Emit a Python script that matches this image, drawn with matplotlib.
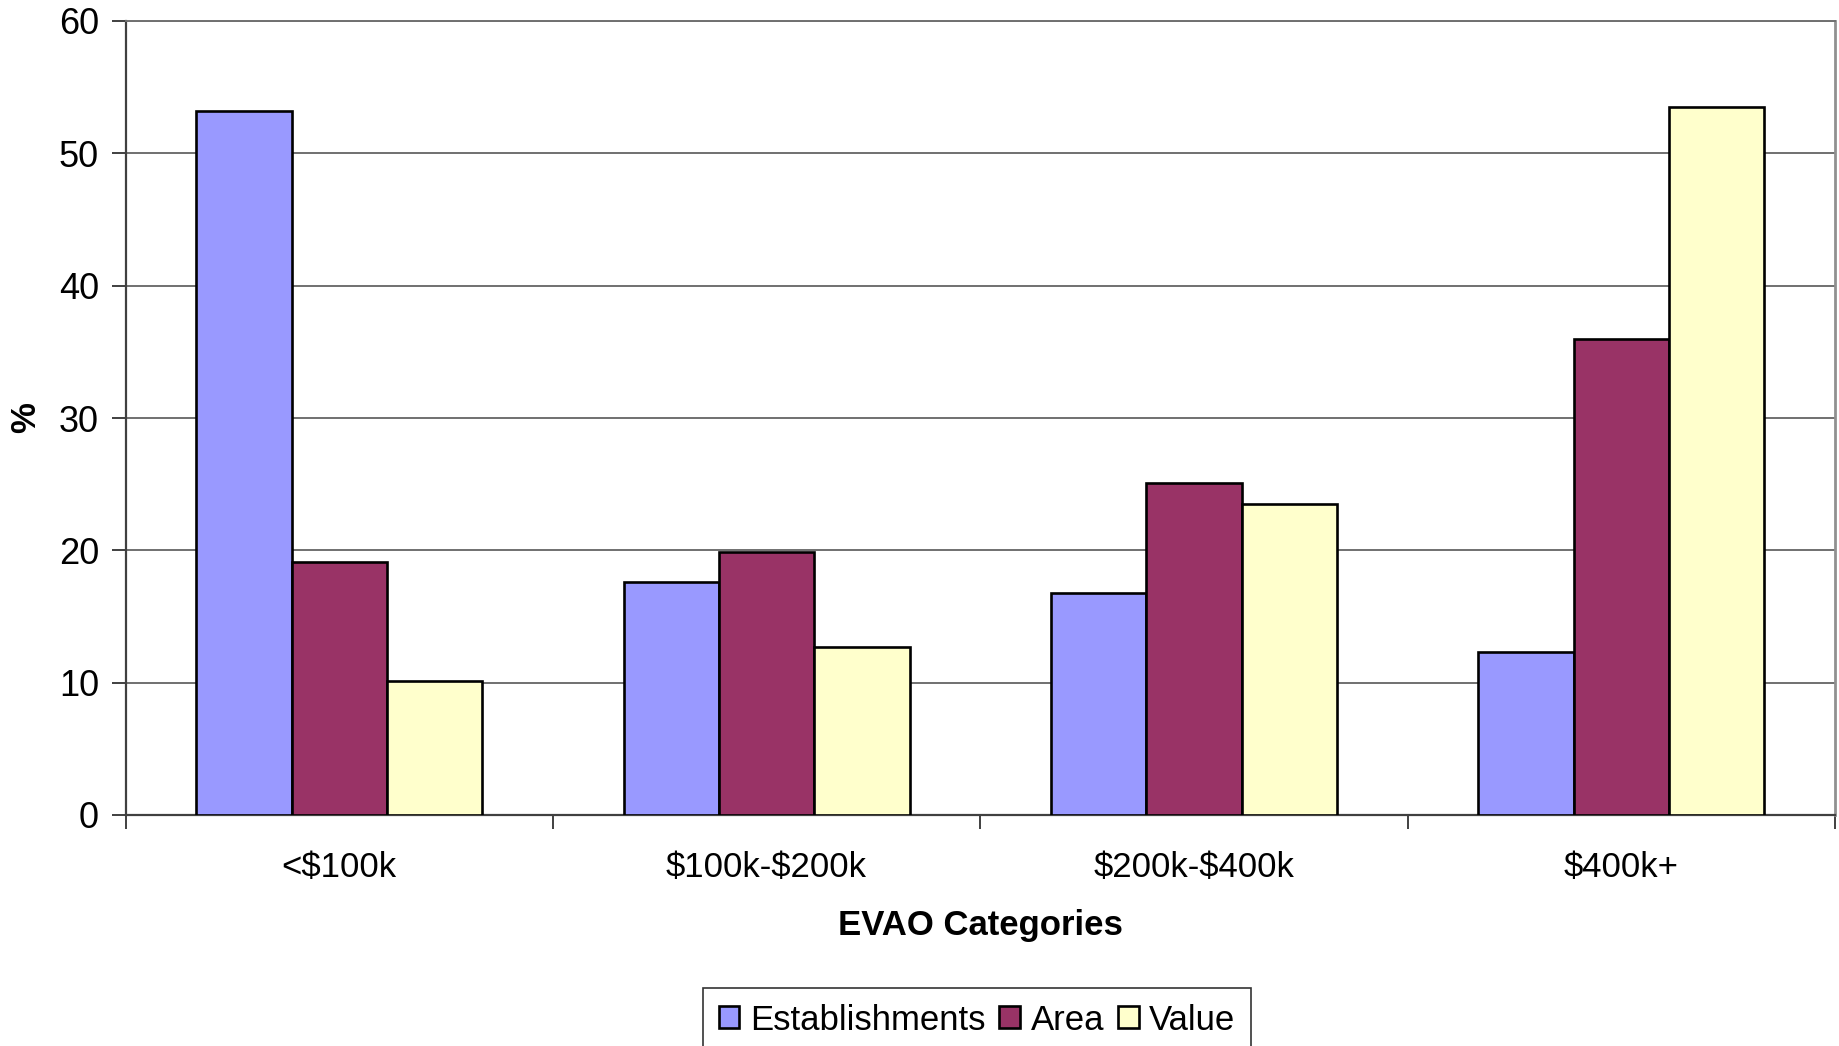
import matplotlib
matplotlib.use("Agg")
import matplotlib.pyplot as plt
import numpy as np

categories = [r"<\$100k", r"\$100k-\$200k", r"\$200k-\$400k", r"\$400k+"]
series_names = ["Establishments", "Area", "Value"]
establishments = [53.2, 17.6, 16.8, 12.3]
area = [19.1, 19.9, 25.1, 36.0]
value = [10.1, 12.7, 23.5, 53.5]
y_ticks = [0, 10, 20, 30, 40, 50, 60]

colors = ["#9999FF", "#993366", "#FFFFCC"]

plt.rcParams['font.family'] = ['Liberation Sans', 'DejaVu Sans']

fig = plt.figure(figsize=(18.39, 10.46), dpi=100)
ax = fig.add_axes([125.5 / 1839, 1 - 815 / 1046, (1835 - 125.5) / 1839, (815 - 21) / 1046])

x = np.arange(len(categories))
w = 0.223
for i, (name, vals) in enumerate(zip(series_names, [establishments, area, value])):
    ax.bar(x + (i - 1) * w, vals, width=w, color=colors[i], edgecolor="black",
           linewidth=1.9, label=name, zorder=3)

ax.set_xlim(-0.5, len(categories) - 0.5)
ax.set_ylim(0, 60)
ax.set_yticks(y_ticks)
ax.set_yticklabels([str(t) for t in y_ticks], fontsize=26)
ax.yaxis.grid(True, color="#707070", linewidth=1.4, zorder=0)
ax.set_axisbelow(True)

ax.set_xticks(np.arange(-0.5, len(categories) + 0.5, 1.0))
ax.set_xticklabels([])
ax.set_xticks(x, minor=True)
ax.set_xticklabels(categories, minor=True, fontsize=25)
ax.tick_params(axis="x", which="minor", length=0, pad=26)
ax.tick_params(axis="x", which="major", length=10, width=1.4, color="#404040", direction="out")
ax.tick_params(axis="y", length=10, width=1.4, color="#404040", direction="out", pad=9)

for s in ["left", "bottom"]:
    ax.spines[s].set_color("#404040")
    ax.spines[s].set_linewidth(1.6)
ax.spines["right"].set_color("#909090")
ax.spines["right"].set_linewidth(2)
ax.spines["top"].set_color("#707070")
ax.spines["top"].set_linewidth(1.4)

ax.set_xlabel("EVAO Categories", fontsize=25, fontweight="bold", labelpad=18)
ax.set_ylabel("%", fontsize=25, fontweight="bold")
ax.yaxis.set_label_coords(-0.049, 0.5)

leg = ax.legend(loc="upper center", bbox_to_anchor=(977 / 1839, 1 - 988 / 1046),
                bbox_transform=fig.transFigure, ncol=3, fontsize=25, frameon=True,
                fancybox=False, edgecolor="black", handlelength=0.6, handleheight=0.6,
                handletextpad=0.3, columnspacing=0.4, borderpad=0.45, borderaxespad=0)
leg.get_frame().set_linewidth(1.2)

fig.savefig("out.png", dpi=100, facecolor="white")
